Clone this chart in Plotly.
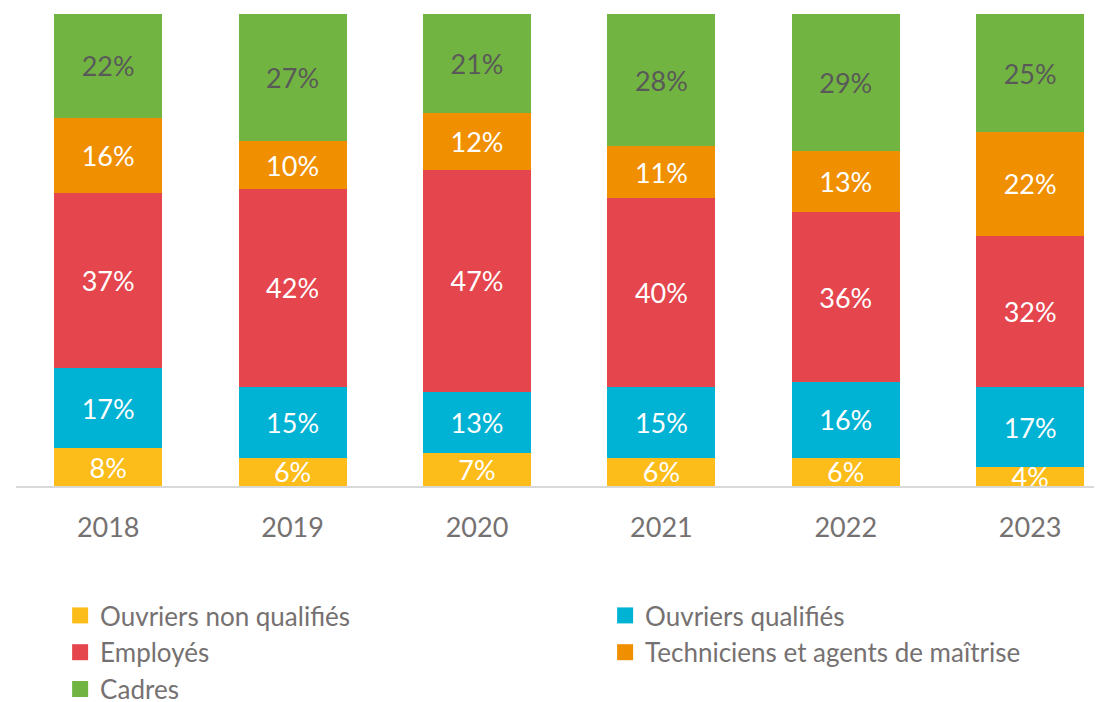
import plotly.graph_objects as go

years = ["2018", "2019", "2020", "2021", "2022", "2023"]
ouvriers_non_qualifies = [8, 6, 7, 6, 6, 4]
ouvriers_qualifies = [17, 15, 13, 15, 16, 17]
employes = [37, 42, 47, 40, 36, 32]
techniciens = [16, 10, 12, 11, 13, 22]
cadres = [22, 27, 21, 28, 29, 25]

series = [
    ("Ouvriers non qualifiés", ouvriers_non_qualifies, "#FCBC19", "white"),
    ("Ouvriers qualifiés", ouvriers_qualifies, "#00B2D3", "white"),
    ("Employés", employes, "#E5454D", "white"),
    ("Techniciens et agents de maîtrise", techniciens, "#F08F00", "white"),
    ("Cadres", cadres, "#72B441", "#595959"),
]

FONT = "Lato"
GREY = "#767171"

fig = go.Figure()
for name, vals, color, tcolor in series:
    fig.add_trace(go.Bar(
        x=years, y=vals, name=name,
        marker=dict(color=color, line=dict(width=0)),
        text=[f"{v}%" for v in vals],
        textposition="inside", insidetextanchor="middle",
        textfont=dict(family=FONT, size=27, color=tcolor),
        cliponaxis=True,
        showlegend=False, hoverinfo="skip",
    ))
    fig.add_trace(go.Scatter(
        x=[None], y=[None], mode="markers", name=name,
        marker=dict(symbol="square", size=18, color=color),
        showlegend=True,
    ))

fig.update_layout(
    width=1102, height=702,
    barmode="stack", bargap=0.414,
    plot_bgcolor="white", paper_bgcolor="white",
    margin=dict(l=8, r=0, t=6, b=224),
    uniformtext=dict(minsize=27, mode="show"),
    font=dict(family=FONT, color=GREY),
    xaxis=dict(
        type="category", range=[-0.5, 5.433],
        showline=True, linecolor="#D9D9D9", linewidth=2,
        showgrid=False, zeroline=False,
        ticks="outside", ticklen=17, tickcolor="rgba(0,0,0,0)",
        tickfont=dict(family=FONT, size=27, color=GREY),
    ),
    yaxis=dict(range=[0, 100], visible=False, showgrid=False),
    legend=dict(
        orientation="h", xref="container", yref="container",
        x=0.0473, xanchor="left", y=1 - 584 / 702, yanchor="top",
        entrywidth=500, entrywidthmode="pixels",
        traceorder="normal",
        font=dict(family=FONT, size=26, color=GREY),
        itemsizing="trace", tracegroupgap=0,
    ),
)

fig.write_html("out.html")
